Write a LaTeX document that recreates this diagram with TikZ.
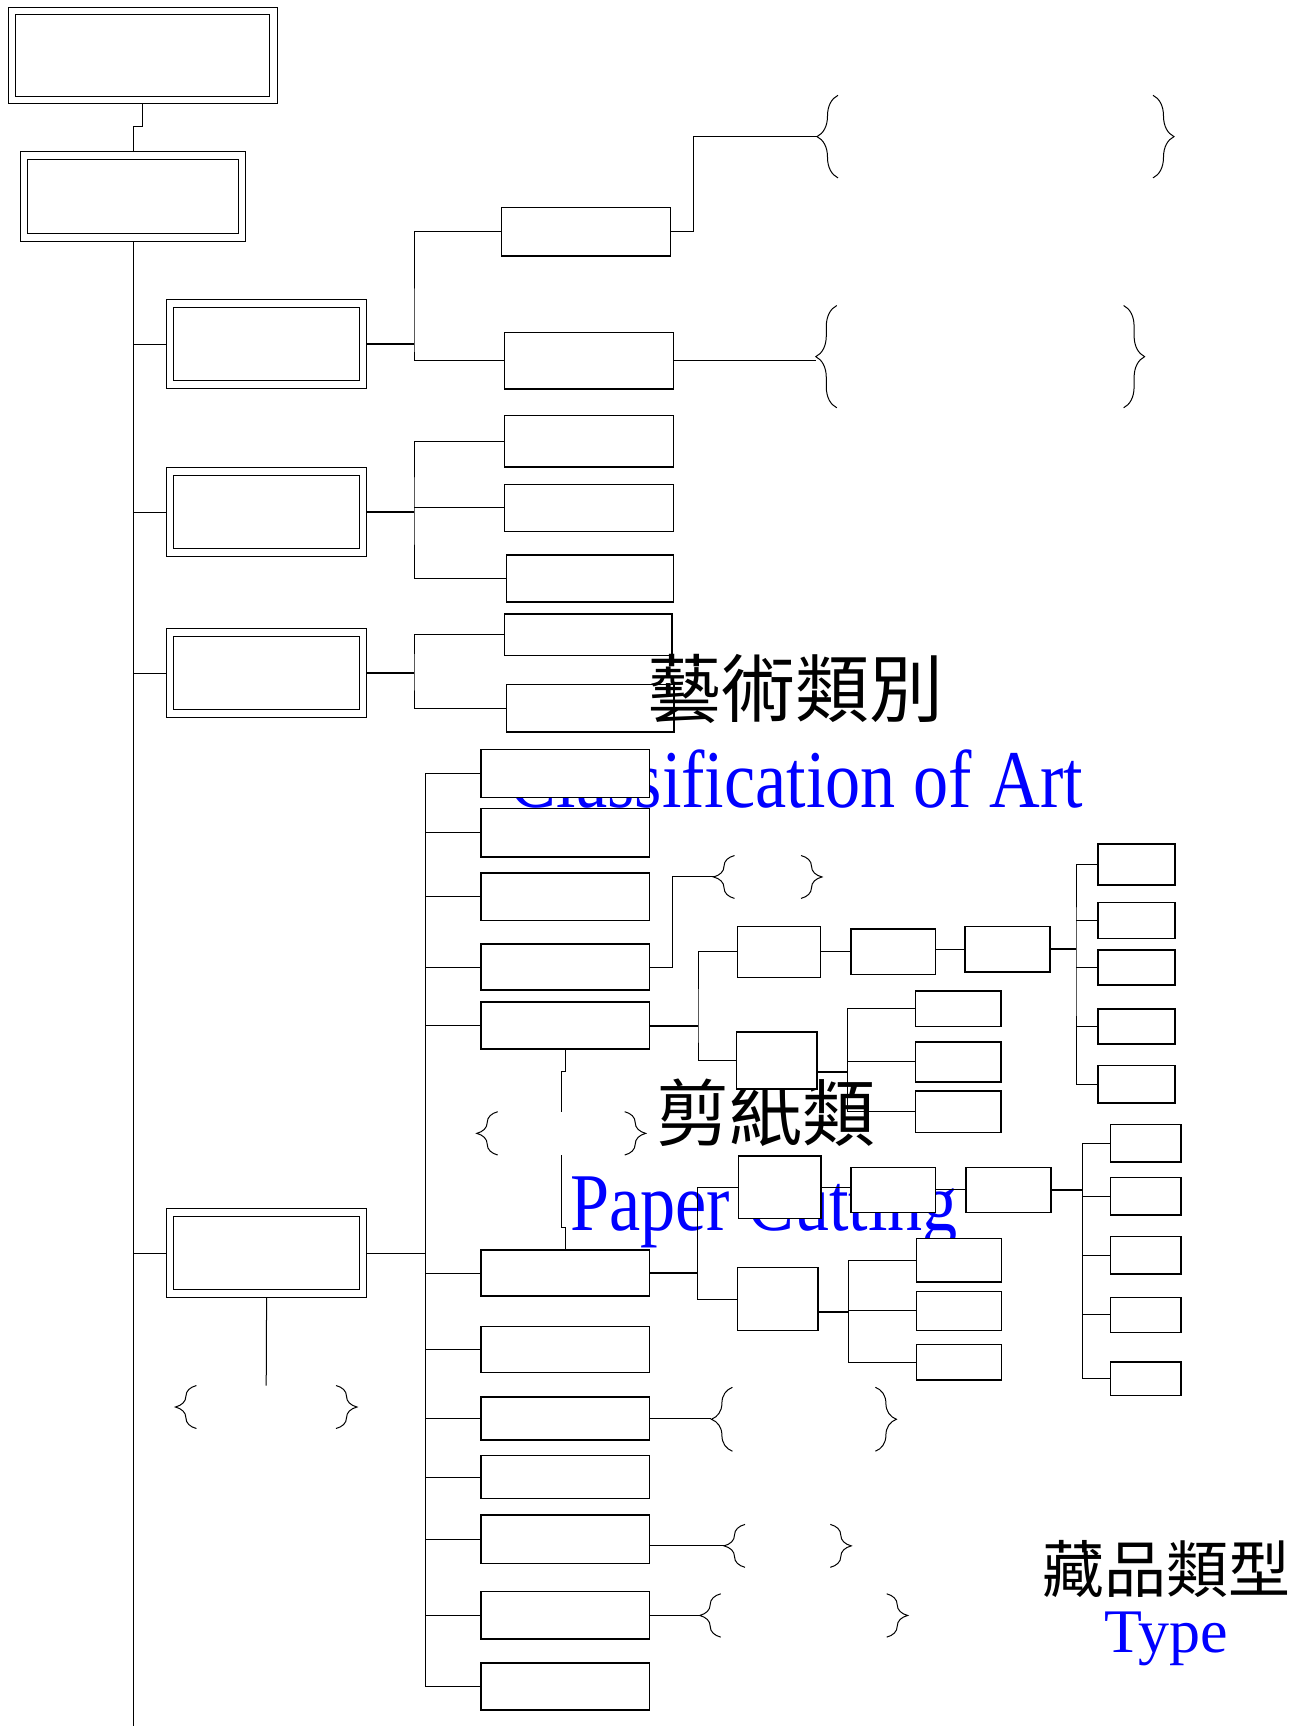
\documentclass[tikz,border=0pt]{standalone}
\usepackage{fontspec}
\newfontfamily\cjkfont{Noto Sans CJK TC}
\newfontfamily\narrowserif[FakeStretch=0.856]{Liberation Serif}
\newfontfamily\enserif{Liberation Serif}
\usetikzlibrary{positioning,calc,decorations.pathreplacing}

\tikzset{
    wh/.style 2 args={minimum width=#1*0.5pt, minimum height=#2*0.5pt},
    dbox/.style={draw, double, double distance=3.25pt, line width=0.5pt, fill=white, inner sep=0pt, outer sep=2.1pt},
    sbox/.style={draw, line width=0.75pt, fill=white, inner sep=0pt},
    bpair/.style={inner sep=0pt, outer sep=0pt},
    link/.style={line width=0.5pt},
    bus/.style={line width=1pt},
    lbrace/.style={decorate, decoration={brace, amplitude=10.5pt}, line width=0.5pt},
    zh/.style={font=\cjkfont\fontsize{#1}{#1}\selectfont},
    en/.style={font=\narrowserif\fontsize{41pt}{41pt}\selectfont, text=blue, anchor=base}
}

\begin{document}
\begin{tikzpicture}[x=0.5pt, y=-0.5pt]
    \useasboundingbox (0,0) rectangle (1310,1726);
    \coordinate (bottom) at (0,1726);

    % Texts behind the boxes
    \node[en] (arten) at (796.5,807) {Classification of Art};
    \node[zh=36.5pt] (cutzh) at (765.5,1112.5) {剪紙類};
    \node[en] (cuten) at (764,1230) {Paper Cutting};
    \node[zh=31pt] (typezh) at (1166.3,1568.9) {藏品類型};
    \node[font=\enserif\fontsize{31pt}{31pt}\selectfont, text=blue, anchor=base] (typeen) at (1166.1,1652.6) {Type};

    % Head and main branches
    \node[dbox, wh={261.3}{88.9}] (T) at (142.8,55.5) {};
    \node[dbox, wh={218}{82.4}] (S) at (133.05,196.45) {};
    \node[dbox, wh={193.2}{81}] (A) at (266.6,344) {};
    \node[dbox, wh={193.2}{81}] (B) at (266.6,512.15) {};
    \node[dbox, wh={193.2}{81.1}] (C) at (266.6,673.1) {};
    \node[dbox, wh={193.2}{81}] (H) at (266.6,1253.15) {};

    % Second level
    \node[sbox, wh={168.8}{48.4}] (A1) at (586.1,231.8) {};
    \node[sbox, wh={168.8}{56.4}] (A2) at (589,360.8) {};
    \node[sbox, wh={168.8}{51.3}] (B1) at (589,441.15) {};
    \node[sbox, wh={168.8}{47}] (B2) at (589,507.9) {};
    \node[sbox, wh={167.1}{47.3}] (B3) at (589.85,578.5) {};
    \node[sbox, wh={167.4}{41.4}] (C1) at (588.3,634.6) {};
    \node[sbox, wh={167.7}{47.7}] (C2) at (590.15,708.1) {};
    \foreach \n/\y/\h in {D1/773.6/48, D2/832.8/48.4, D3/896.75/47.3, D4/967/46.2, D5/1025.65/46.9,
        I1/1273.05/46.3, I2/1349.65/45.9, I3/1418.55/42.7, I4/1477.2/43, I5/1539.45/48.5,
        I6/1615.3/47.4, I7/1686.6/46.8}
        \node[sbox, wh={168.3}{\h}] (\n) at (565.35,\y) {};

    % Paper cutting tree
    \node[sbox, wh={82.7}{51.3}] (E1) at (779.05,951.95) {};
    \node[sbox, wh={84.7}{45.5}] (E2) at (893.35,951.95) {};
    \node[sbox, wh={85.2}{45.5}] (E3) at (1007.6,949.05) {};
    \node[sbox, wh={80.5}{57.2}] (E4) at (776.75,1060.5) {};
    \foreach \n/\y/\h in {F1/864.5/41.4, F2/920.45/35.9, F3/967.4/35.2, F4/1026.4/35.2, F5/1084.3/37.4}
        \node[sbox, wh={76.8}{\h}] (\n) at (1136.6,\y) {};
    \foreach \n/\y/\h in {G1/1008.6/35.6, G2/1061.8/40, G3/1111.7/41.4}
        \node[sbox, wh={85.2}{\h}] (\n) at (958.3,\y) {};
    \node[sbox, wh={82.7}{62.4}] (J1) at (779.85,1187.1) {};
    \node[sbox, wh={84.7}{45.2}] (J2) at (893.35,1189.9) {};
    \node[sbox, wh={84.6}{45.2}] (J3) at (1008.5,1189.9) {};
    \node[sbox, wh={80.7}{62.8}] (J4) at (777.65,1299) {};
    \foreach \n/\y/\h in {K1/1143.05/37.5, K2/1196.3/37.4, K3/1255.25/37.1, K4/1314.95/35.3, K5/1378.7/33.4}
        \node[sbox, wh={70.7}{\h}] (\n) at (1145.65,\y) {};
    \foreach \n/\y/\h in {L1/1260.2/43.4, L2/1310.9/39, L3/1362.15/35.7}
        \node[sbox, wh={84.8}{\h}] (\n) at (958.9,\y) {};

    \node[zh=37pt] (artzh) at (795,688.5) {藝術類別};

    % Brace pairs
    \node[bpair, wh={357}{82.6}] (P1) at (995.5,136.6) {};
    \node[bpair, wh={328.8}{102.3}] (P2) at (980.2,356.65) {};
    \node[bpair, wh={108.5}{42.9}] (P3) at (767.75,876.95) {};
    \node[bpair, wh={169}{43.3}] (P4) at (561.2,1133.35) {};
    \node[bpair, wh={181.6}{43}] (P5) at (266.2,1407) {};
    \node[bpair, wh={185}{63.9}] (P6) at (803.9,1419.25) {};
    \node[bpair, wh={127.3}{42.9}] (P7) at (787.65,1545.85) {};
    \node[bpair, wh={208}{43.3}] (P8) at (803.7,1615.45) {};
    \foreach \p in {P1,P2,P3,P4,P5,P6,P7,P8} {
        \draw[lbrace] ([xshift=10.5pt]\p.south west) -- ([xshift=10.5pt]\p.north west);
        \draw[lbrace] ([xshift=-10.5pt]\p.north east) -- ([xshift=-10.5pt]\p.south east);
    }

    % Forks
    \coordinate (fA) at (414,344);
    \coordinate (fB) at (414,512.15);
    \coordinate (fC) at (414,673.1);
    \coordinate (fD) at (425.6,1253.15);
    \coordinate (fE) at (698,1025.65);
    \coordinate (fF) at (1076,949.05);
    \coordinate (fG) at (847.6,1071.9);
    \coordinate (fJ) at (697.2,1273.05);
    \coordinate (fK) at (1082.3,1189.9);
    \coordinate (fL) at (848.4,1312.4);

    % Trunk
    \draw[link] (T.south) -- ++(0,22) -| (S.north);
    \draw[link] (S.south) -- (S.south |- bottom);
    \foreach \n in {A,B,C,H}
        \draw[link] (\n.west) -- (\n.west -| S.south);

    % Main branches to second level
    \draw[bus] (A.east) -- (fA);
    \draw[link] (A1.west) -| (fA) |- (A2.west);
    \draw[bus] (B.east) -- (fB);
    \draw[link] (B1.west) -| (fB) |- (B3.west);
    \draw[link] (B2.west) -- (B2.west -| fB);
    \draw[bus] (C.east) -- (fC);
    \draw[link] (C1.west) -| (fC) |- (C2.west);
    \draw[link] (H.east) -- (fD);
    \draw[link] (D1.west) -| (fD) |- (I7.west);
    \foreach \n in {D2,D3,D4,D5,I1,I2,I3,I4,I5,I6}
        \draw[link] (\n.west) -- (\n.west -| fD);

    % Paper cutting tree links
    \draw[bus] (D5.east) -- (fE);
    \draw[link] (E1.west) -| (fE) |- (E4.west);
    \draw[link] (E1.east) -- (E2.west);
    \draw[link] (E2.east |- E3.west) -- (E3.west);
    \draw[bus] (E3.east) -- (fF);
    \draw[link] (F1.west) -| (fF) |- (F5.west);
    \foreach \n in {F2,F3,F4}
        \draw[link] (\n.west) -- (\n.west -| fF);
    \draw[bus] (fG -| E4.east) -- (fG);
    \draw[link] (G1.west) -| (fG) |- (G3.west);
    \draw[link] (G2.west) -- (G2.west -| fG);
    \draw[bus] (I1.east) -- (fJ);
    \draw[link] (J1.west) -| (fJ) |- (J4.west);
    \draw[link] (J1.east) -- (J1.east -| J2.west);
    \draw[link] (J2.east) -- (J3.west);
    \draw[bus] (J3.east) -- (fK);
    \draw[link] (K1.west) -| (fK) |- (K5.west);
    \foreach \n in {K2,K3,K4}
        \draw[link] (\n.west) -- (\n.west -| fK);
    \draw[bus] (fL -| J4.east) -- (fL);
    \draw[link] (L1.west) -| (fL) |- (L3.west);
    \draw[link] (L2.west) -- (L2.west -| fL);

    % Links to the braces
    \draw[link] (A1.east) -- ++(22,0) |- (P1.west);
    \draw[link] (A2.east) -- (A2.east -| P2.west);
    \draw[link] (D4.east) -- ++(22,0) |- (P3.west);
    \draw[link] (D5.south) -- ++(0,21.6) -| (P4.north);
    \draw[link] (P4.south) -- ++(0,72.7) -| (I1.north);
    \draw[link] (H.south) -- (P5.north);
    \draw[link] (I3.east) -- (I3.east -| P6.west);
    \draw[link] (P7.west -| I5.east) -- (P7.west);
    \draw[link] (I6.east) -- (I6.east -| P8.west);
\end{tikzpicture}
\end{document}
